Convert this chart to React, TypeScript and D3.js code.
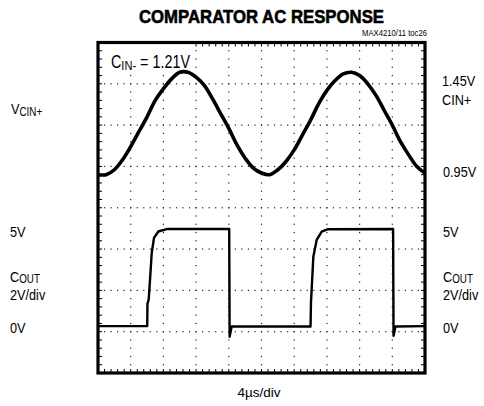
import React, { useEffect, useRef } from 'react';
import * as d3 from 'd3';

const W = 484;
const H = 406;
const SANS = "'Liberation Sans', Arial, Helvetica, sans-serif";
const NARROW_X = 0.82; // horizontal squeeze to mimic a condensed face

// 4us/div x 10 div
const TIME_DOMAIN: [number, number] = [0, 40];
// CIN+ channel, 0.25V/div x 8 div (1.45V on 1st line, 0.95V on 3rd)
const CIN_DOMAIN: [number, number] = [-0.3, 1.7];
// COUT channel, 2V/div x 8 div
const COUT_DOMAIN: [number, number] = [-2.25, 13.75];

// [t (us), V]
const cinPlus: [number, number][] = [
  [0, 0.90], [1, 0.90], [2, 0.93], [3, 0.99], [4, 1.07], [5, 1.16], [6, 1.25], [7, 1.35],
  [8, 1.42], [9, 1.48], [10, 1.52], [11, 1.52], [12, 1.49], [13, 1.44], [14, 1.36], [15, 1.27],
  [16, 1.18], [17, 1.08], [18, 1.00], [19, 0.94], [20, 0.91], [21, 0.90], [22, 0.93], [23, 0.98],
  [24, 1.05], [25, 1.14], [26, 1.23], [27, 1.33], [28, 1.41], [29, 1.47], [30, 1.51], [31, 1.52],
  [32, 1.50], [33, 1.45], [34, 1.38], [35, 1.29], [36, 1.20], [37, 1.10], [38, 1.02], [39, 0.95],
  [40, 0.91],
];

const cout: [number, number][] = [
  [0, 0.02], [6.02, 0.02], [6.05, 1.1], [6.2, 1.3], [6.36, 2.25], [6.57, 3.56], [6.85, 4.29],
  [7.38, 4.6], [8.4, 4.72], [16.05, 4.72], [16.1, -0.5], [16.35, 0.0], [26.0, 0.0],
  [26.05, 1.14], [26.34, 3.38], [26.75, 4.19], [27.36, 4.59], [28.13, 4.71], [36.1, 4.72],
  [36.15, -0.45], [36.4, 0.0], [40, 0.02],
];

export default function App() {
  const svgRef = useRef<SVGSVGElement>(null);

  useEffect(() => {
    const svg = d3.select(svgRef.current);
    svg.selectAll('*').remove();

    const left = 98, right = 425, top = 42.5, bottom = 373;
    const x = d3.scaleLinear().domain(TIME_DOMAIN).range([left, right]);
    const yIn = d3.scaleLinear().domain(CIN_DOMAIN).range([bottom, top]);
    const yOut = d3.scaleLinear().domain(COUT_DOMAIN).range([bottom, top]);
    // grid positions in sub-divisions (5 per div)
    const gx = d3.scaleLinear().domain([0, 50]).range([left, right]);
    const gy = d3.scaleLinear().domain([0, 40]).range([top, bottom]);

    svg.append('rect').attr('width', W).attr('height', H).attr('fill', '#fff');

    // dotted grid
    const grid = svg.append('g').attr('fill', '#222');
    d3.range(1, 10).forEach(i => {
      d3.range(0, 41).forEach(k => {
        grid.append('rect')
          .attr('x', gx(i * 5) - 0.6).attr('y', gy(k) - 0.6)
          .attr('width', 1.2).attr('height', 1.2);
      });
    });
    d3.range(1, 8).forEach(j => {
      d3.range(0, 51).forEach(k => {
        grid.append('rect')
          .attr('x', gx(k) - 0.6).attr('y', gy(j * 5) - 0.6)
          .attr('width', 1.2).attr('height', 1.2);
      });
    });

    // border ticks
    const ticks = svg.append('g').attr('stroke', '#000').attr('stroke-width', 1);
    d3.range(1, 40).forEach(k => {
      ticks.append('line').attr('x1', left).attr('x2', left + 4).attr('y1', gy(k)).attr('y2', gy(k));
      ticks.append('line').attr('x1', right).attr('x2', right - 4).attr('y1', gy(k)).attr('y2', gy(k));
    });
    d3.range(1, 50).forEach(k => {
      ticks.append('line').attr('x1', gx(k)).attr('x2', gx(k)).attr('y1', top).attr('y2', top + 4);
      ticks.append('line').attr('x1', gx(k)).attr('x2', gx(k)).attr('y1', bottom).attr('y2', bottom - 4);
    });

    // condensed text helper
    const txt = (tx: number, ty: number, s: string, size = 15.5) =>
      svg.append('text')
        .attr('transform', `translate(${tx},${ty}) scale(${NARROW_X},1)`)
        .style('font-family', SANS).style('font-size', `${size}px`).attr('fill', '#000')
        .text(s);

    // CIN- label box
    svg.append('rect')
      .attr('x', 104).attr('y', top + 1.5).attr('width', 91).attr('height', 28)
      .attr('fill', '#fff');
    const lab = txt(111, 67.5, 'C', 17.5);
    lab.append('tspan').attr('dy', 2).style('font-size', '13.5px').text('IN-');
    lab.append('tspan').attr('dy', -2).text(' = 1.21V');

    // traces
    const lineIn = d3.line<[number, number]>()
      .x(d => x(d[0])).y(d => yIn(d[1]))
      .curve(d3.curveCatmullRom.alpha(0.5));
    svg.append('path')
      .datum(cinPlus)
      .attr('d', lineIn)
      .attr('fill', 'none').attr('stroke', '#000').attr('stroke-width', 3.6)
      .attr('stroke-linejoin', 'round');

    const lineOut = d3.line<[number, number]>()
      .x(d => x(d[0])).y(d => yOut(d[1]));
    svg.append('path')
      .datum(cout)
      .attr('d', lineOut)
      .attr('fill', 'none').attr('stroke', '#000').attr('stroke-width', 2.4)
      .attr('stroke-linejoin', 'round');

    // frame
    svg.append('rect')
      .attr('x', left).attr('y', top)
      .attr('width', right - left).attr('height', bottom - top)
      .attr('fill', 'none').attr('stroke', '#000').attr('stroke-width', 3.2);

    // title (heavy condensed look)
    svg.append('text')
      .attr('x', 261.5).attr('y', 22.5).attr('text-anchor', 'middle')
      .attr('textLength', 245).attr('lengthAdjust', 'spacingAndGlyphs')
      .style('font-family', SANS).style('font-weight', 'bold').style('font-size', '19px')
      .attr('stroke', '#000').attr('stroke-width', 0.6)
      .text('COMPARATOR AC RESPONSE');
    svg.append('text')
      .attr('x', 427).attr('y', 35.5).attr('text-anchor', 'end')
      .attr('textLength', 65).attr('lengthAdjust', 'spacingAndGlyphs')
      .style('font-family', SANS).style('font-size', '9px')
      .text('MAX4210/11 toc26');

    // left labels
    const v = txt(11, 114, 'V');
    v.append('tspan').attr('dy', 2).style('font-size', '12px').text('CIN+');
    txt(10, 237, '5V');
    const cl = txt(10, 281.5, 'C');
    cl.append('tspan').attr('dy', 1).style('font-size', '12px').text('OUT');
    txt(10, 300, '2V/div');
    txt(10, 333, '0V');

    // right labels
    txt(442, 86, '1.45V');
    txt(442, 105, 'CIN+');
    txt(443, 177, '0.95V');
    txt(443, 237, '5V');
    const cr = txt(443, 281.5, 'C');
    cr.append('tspan').attr('dy', 1).style('font-size', '12px').text('OUT');
    txt(443, 300, '2V/div');
    txt(443, 333, '0V');

    svg.append('text')
      .attr('x', 259).attr('y', 397).attr('text-anchor', 'middle')
      .style('font-family', SANS).style('font-size', '13.5px')
      .text('4\u00B5s/div');
  }, []);

  return (
    <svg
      ref={svgRef}
      width={W}
      height={H}
      style={{ position: 'absolute', left: 0, top: 0 }}
    />
  );
}
